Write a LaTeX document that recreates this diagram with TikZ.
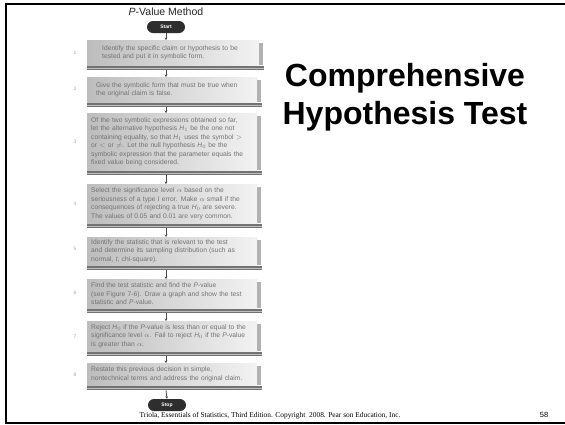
\documentclass[tikz,border=0pt]{standalone}
\usepackage{fontspec}
\setmainfont{Liberation Sans}
\newfontfamily\seriffont{Liberation Serif}
\usetikzlibrary{arrows.meta,shadings}
\tikzset{
  stepbox/.style={rectangle, anchor=north west, left color=black!26, right color=black!5,
    minimum width=170pt, text width=162pt, inner xsep=4pt, inner ysep=0pt, align=left,
    font=\fontsize{6.7}{8.4}\selectfont, text=black!55},
  term/.style={rectangle, rounded corners=6pt, minimum width=38pt, minimum height=12pt,
    inner sep=0pt, fill=black!82, text=white, font=\bfseries\fontsize{5}{6}\selectfont},
  arr/.style={draw=black!70, line width=0.8pt, -{Stealth[length=2.5pt,width=2.5pt]}},
  bar/.style={fill=black!55},
  numlab/.style={text=black!35, font=\fontsize{5}{6}\selectfont, inner sep=0pt},
  border/.style={line width=2pt, black}
}
\newcommand{\barunder}[1]{%
  \fill[black!30] ([yshift=-3pt]#1.north east) rectangle ([xshift=4pt]#1.south east);
  \fill[bar] ([yshift=-1pt]#1.south west) rectangle ([xshift=5pt,yshift=-5pt]#1.south east);
  \fill[black!25] ([yshift=-2.6pt]#1.south west) rectangle ([xshift=5pt,yshift=-3.4pt]#1.south east);}
\begin{document}
\begin{tikzpicture}[x=1pt,y=-1pt]
\useasboundingbox (0,0) rectangle (565,424);
\fill[white] (0,0) rectangle (565,424);
% borders
\draw[border] (565,4) -- (6,4) -- (6,423) -- (565,423);
% right title
\node[font=\bfseries\fontsize{32}{38}\selectfont, align=center, inner sep=0pt] (ttl) at (405,97.7) {Comprehensive\\Hypothesis Test};
% flowchart title
\node[font=\fontsize{10.5}{11}\selectfont, text=black!85, inner sep=0pt] (ftitle) at (166,12) {\textit{P}-Value Method};
\node[term] (start) at (166,27) {Start};
% boxes
\node[stepbox, minimum height=25pt, inner xsep=15pt, text width=142pt] (b1) at (87,40)
 {Identify the specific claim or hypothesis to be\\tested and put it in symbolic form.};
\node[stepbox, minimum height=25pt, inner xsep=9pt, text width=152pt] (b2) at (87,77)
 {Give the symbolic form that must be true when\\the original claim is false.};
\node[stepbox, minimum height=57pt] (b3) at (87,113)
 {Of the two symbolic expressions obtained so far,\\let the alternative hypothesis \textit{H}$_1$ be the one not\\containing equality, so that \textit{H}$_1$ uses the symbol $>$\\or $<$ or $\neq$. Let the null hypothesis \textit{H}$_0$ be the\\symbolic expression that the parameter equals the\\fixed value being considered.};
\node[stepbox, minimum height=39pt] (b4) at (87,184)
 {Select the significance level $\alpha$ based on the\\seriousness of a type I error. Make $\alpha$ small if the\\consequences of rejecting a true \textit{H}$_0$ are severe.\\The values of 0.05 and 0.01 are very common.};
\node[stepbox, minimum height=28pt] (b5) at (87,237)
 {Identify the statistic that is relevant to the test\\and determine its sampling distribution (such as\\normal, \textit{t}, chi-square).};
\node[stepbox, minimum height=29pt] (b6) at (87,279)
 {Find the test statistic and find the \textit{P}-value\\(see Figure 7-6). Draw a graph and show the test\\statistic and \textit{P}-value.};
\node[stepbox, minimum height=30pt] (b7) at (87,321)
 {Reject \textit{H}$_0$ if the \textit{P}-value is less than or equal to the\\significance level $\alpha$. Fail to reject \textit{H}$_0$ if the \textit{P}-value\\is greater than $\alpha$.};
\node[stepbox, minimum height=22pt] (b8) at (87,363)
 {Restate this previous decision in simple,\\nontechnical terms and address the original claim.};
\node[term] (stop) at (167,405) {Stop};
\barunder{b1}\barunder{b2}\barunder{b3}\barunder{b4}
\barunder{b5}\barunder{b6}\barunder{b7}\barunder{b8}
% connectors
\draw[arr] (start.south) -- ([xshift=79pt]b1.north west);
\draw[arr] ([xshift=79pt,yshift=-5pt]b1.south west) -- ([xshift=79pt]b2.north west);
\draw[arr] ([xshift=79pt,yshift=-5pt]b2.south west) -- ([xshift=79pt]b3.north west);
\draw[arr] ([xshift=79pt,yshift=-5pt]b3.south west) -- ([xshift=79pt]b4.north west);
\draw[arr] ([xshift=79pt,yshift=-5pt]b4.south west) -- ([xshift=79pt]b5.north west);
\draw[arr] ([xshift=79pt,yshift=-5pt]b5.south west) -- ([xshift=79pt]b6.north west);
\draw[arr] ([xshift=79pt,yshift=-5pt]b6.south west) -- ([xshift=79pt]b7.north west);
\draw[arr] ([xshift=79pt,yshift=-5pt]b7.south west) -- ([xshift=79pt]b8.north west);
\draw[arr] ([xshift=79pt,yshift=-5pt]b8.south west) -- (stop.north);
% step numbers
\node[numlab] (n1) at (75,53) {1};
\node[numlab] (n2) at (75,89) {2};
\node[numlab] (n3) at (75,142) {3};
\node[numlab] (n4) at (75,204) {4};
\node[numlab] (n5) at (75,249) {5};
\node[numlab] (n6) at (75,293) {6};
\node[numlab] (n7) at (75,337) {7};
\node[numlab] (n8) at (75,375) {8};
% footer
\node[font=\seriffont\fontsize{7.4}{8}\selectfont, anchor=base, inner sep=0pt] (foot) at (270,417)
 {Triola, Essentials of Statistics, Third Edition. Copyright\ \ 2008. Pear son Education, Inc.};
\node[font=\fontsize{7.5}{8}\selectfont, anchor=base, inner sep=0pt] (pg) at (544,417) {58};
\end{tikzpicture}
\end{document}
